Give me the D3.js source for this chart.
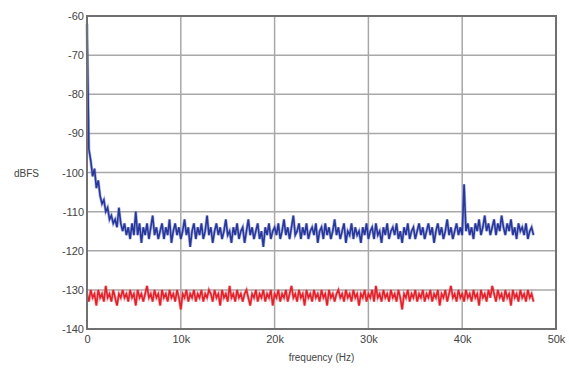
<!DOCTYPE html>
<html lang="en">
<head>
<meta charset="utf-8">
<title>dBFS spectrum</title>
<style>
body { margin: 0; background: #fff; }
text { font-family: "Liberation Sans", Arial, sans-serif; fill: #444; }
</style>
<script src="https://cdn.jsdelivr.net/npm/d3@7"></script>
</head>
<body>
<svg id="chart" width="569" height="373"></svg>
<script>
// spectrum bins, 200 Hz apart, starting at 0 Hz
var binHz = 200;
var xTicks = [0, 10000, 20000, 30000, 40000, 50000];
var xTickLabels = ["0", "10k", "20k", "30k", "40k", "50k"];
var yTicks = [-60, -70, -80, -90, -100, -110, -120, -130, -140];

var blueLevel = [
 -62,-94,-97,-101,-99,-104,-102,-106,-108,-107,-110,-109,-112,-111,-113,-112,-114,-109,-113,-115,
 -113,-116,-114,-117,-113,-116,-110,-116,-113,-118,-114,-116,-113,-117,-114,-111,-116,-114,-117,-115,
 -113,-117,-114,-116,-112,-118,-115,-113,-116,-114,-117,-115,-112,-116,-114,-119,-115,-113,-117,-114,
 -116,-113,-117,-115,-111,-116,-114,-118,-115,-113,-116,-114,-117,-115,-112,-116,-115,-118,-114,-116,
 -113,-117,-115,-114,-118,-115,-112,-116,-114,-117,-115,-113,-117,-115,-119,-114,-116,-113,-117,-115,
 -114,-116,-113,-117,-115,-112,-116,-114,-117,-114,-111,-116,-115,-113,-117,-114,-116,-113,-117,-115,
 -114,-116,-113,-118,-115,-114,-117,-113,-116,-114,-117,-115,-112,-116,-114,-117,-115,-113,-118,-115,
 -116,-113,-117,-114,-116,-115,-118,-114,-116,-113,-117,-115,-114,-117,-113,-116,-115,-118,-114,-116,
 -113,-117,-115,-114,-116,-113,-117,-115,-118,-114,-116,-113,-117,-115,-114,-117,-115,-113,-116,-114,
 -117,-115,-113,-116,-114,-118,-115,-113,-116,-114,-117,-115,-112,-116,-114,-117,-115,-113,-116,-114,
 -116,-103,-115,-113,-116,-114,-117,-113,-115,-112,-116,-114,-111,-115,-113,-116,-114,-112,-116,-113,
 -115,-111,-114,-116,-113,-115,-112,-116,-114,-117,-113,-115,-114,-116,-113,-117,-115,-114,-116
];

var redLevel = [
 -131,-133,-130,-132,-131,-134,-130,-132,-131,-133,-129,-132,-131,-133,-130,-132,-134,-131,-132,-130,
 -132,-131,-133,-130,-132,-131,-134,-130,-132,-131,-133,-131,-129,-132,-131,-133,-130,-132,-131,-134,
 -130,-132,-131,-133,-130,-132,-131,-133,-130,-132,-135,-131,-132,-130,-133,-131,-132,-130,-133,-131,
 -132,-130,-133,-131,-132,-130,-131,-133,-130,-132,-131,-134,-130,-132,-131,-133,-129,-132,-131,-133,
 -130,-132,-131,-133,-131,-130,-132,-134,-131,-132,-130,-133,-131,-132,-130,-133,-131,-132,-130,-134,
 -131,-132,-130,-133,-131,-132,-130,-133,-131,-129,-132,-131,-133,-130,-132,-131,-134,-130,-132,-131,
 -133,-130,-132,-131,-133,-130,-132,-131,-134,-130,-132,-131,-133,-131,-130,-132,-131,-133,-130,-132,
 -131,-133,-130,-132,-131,-134,-131,-132,-130,-133,-131,-132,-130,-133,-129,-132,-131,-133,-130,-132,
 -131,-133,-130,-132,-131,-133,-130,-132,-135,-131,-132,-130,-133,-131,-132,-130,-133,-131,-132,-130,
 -133,-131,-132,-130,-133,-131,-132,-130,-134,-131,-132,-130,-133,-131,-129,-132,-131,-133,-130,-132,
 -131,-133,-130,-132,-131,-133,-130,-132,-131,-134,-130,-132,-131,-133,-130,-132,-129,-131,-133,-130,
 -132,-131,-133,-130,-132,-131,-134,-130,-132,-131,-133,-130,-132,-131,-133,-130,-132,-131,-133
];

var m = {left: 87, right: 13, top: 16, bottom: 44};
var svg = d3.select("#chart");
var W = 569 - m.left - m.right;
var H = 373 - m.top - m.bottom;

var x = d3.scaleLinear().domain([0, 50000]).range([0, W]);
var y = d3.scaleLinear().domain([-140, -60]).range([H, 0]);

var g = svg.append("g").attr("transform", "translate(" + m.left + "," + m.top + ")");

// grid
g.selectAll(".hgrid").data(yTicks).enter().append("line")
  .attr("x1", 0).attr("x2", W)
  .attr("y1", function(d) { return y(d); }).attr("y2", function(d) { return y(d); })
  .attr("stroke", "#a8a8a8").attr("stroke-width", 1.5);
g.selectAll(".vgrid").data(xTicks).enter().append("line")
  .attr("y1", 0).attr("y2", H)
  .attr("x1", function(d) { return x(d); }).attr("x2", function(d) { return x(d); })
  .attr("stroke", "#a8a8a8").attr("stroke-width", 1.5);

var line = d3.line()
  .x(function(d, i) { return x(i * binHz); })
  .y(function(d) { return y(d); });

// soft halo under each trace, then the trace itself
g.append("path").datum(redLevel)
  .attr("d", line).attr("fill", "none")
  .attr("stroke", "#f07a80").attr("stroke-width", 3).attr("stroke-opacity", 0.6);
g.append("path").datum(redLevel)
  .attr("d", line).attr("fill", "none")
  .attr("stroke", "#e3212b").attr("stroke-width", 1.6);
g.append("path").datum(blueLevel)
  .attr("d", line).attr("fill", "none")
  .attr("stroke", "#7a86cc").attr("stroke-width", 3).attr("stroke-opacity", 0.6);
g.append("path").datum(blueLevel)
  .attr("d", line).attr("fill", "none")
  .attr("stroke", "#28379a").attr("stroke-width", 1.6);

// frame
g.append("rect").attr("width", W).attr("height", H)
  .attr("fill", "none").attr("stroke", "#707070").attr("stroke-width", 2);

// axes
var xAxis = d3.axisBottom(x).tickValues(xTicks)
  .tickFormat(function(d, i) { return xTickLabels[i]; }).tickSize(0).tickPadding(6);
var yAxis = d3.axisLeft(y).tickValues(yTicks)
  .tickFormat(function(d) { return String(d); }).tickSize(0).tickPadding(3);

var gx = g.append("g").attr("transform", "translate(0," + H + ")").call(xAxis);
var gy = g.append("g").call(yAxis);
gx.select(".domain").remove();
gy.select(".domain").remove();
svg.selectAll(".tick text").style("font-size", "11px").attr("fill", "#444");

svg.append("text").attr("x", 14).attr("y", m.top + y(-100) + 4)
  .style("font-size", "10px").text("dBFS");
svg.append("text").attr("x", m.left + W / 2).attr("y", 361)
  .attr("text-anchor", "middle").style("font-size", "10px").text("frequency (Hz)");
</script>
</body>
</html>
